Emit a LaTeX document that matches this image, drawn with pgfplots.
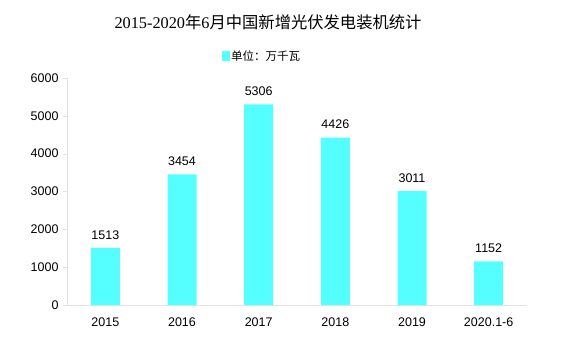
\documentclass[border=0pt]{standalone}
\usepackage{pgfplots}
\pgfplotsset{compat=1.18}
\usepackage{fontspec}
\setmainfont{Liberation Sans}
\newfontfamily\cjk{Noto Sans CJK SC}
\newfontfamily\tnr{Liberation Serif}
\definecolor{barc}{HTML}{55FFFF}
\definecolor{axc}{HTML}{E2E2E2}
\begin{document}
\begin{tikzpicture}
\path (0pt,0pt) rectangle (569pt,-357pt);
\node at (268pt,-22pt) {\fontsize{16.3}{16.3}\selectfont\tnr 2015-2020\cjk 年\tnr 6\cjk 月中国新增光伏发电装机统计};
\fill[barc] (222pt,-51pt) rectangle (230pt,-61pt);
\node[anchor=west,inner sep=0pt] at (231pt,-56.5pt) {\fontsize{11.5}{11.5}\selectfont\cjk 单位：万千瓦};
\begin{axis}[
  at={(67pt,-305pt)}, anchor=south west,
  scale only axis, width=460pt, height=227pt,
  xmin=-0.5, xmax=5.5, ymin=0, ymax=6000,
  ytick={0,1000,...,6000},
  xtick={0,...,5}, xticklabels={2015,2016,2017,2018,2019,2020.1-6},
  extra x ticks={0.5,1.5,2.5,3.5,4.5,5.5}, extra x tick labels={},
  extra x tick style={major tick length=4pt, tick style={axc}},
  major x tick style={draw=none},
  axis x line*=bottom, axis y line*=left,
  axis line style={axc, -},
  y tick style={axc}, major tick length=4pt,
  tick align=outside,
  ticklabel style={font=\fontsize{12.5}{12.5}\selectfont},
  /pgf/number format/assume math mode=true,
  yticklabel style={/pgf/number format/1000 sep={}, xshift=-1pt},
  xticklabel style={yshift=-5pt},
  ybar, bar width=29pt,
  nodes near coords,
  nodes near coords style={font=\fontsize{12.5}{12.5}\selectfont, yshift=5pt, /pgf/number format/1000 sep={}},
  clip=false,
]
\addplot[fill=barc, draw=none] coordinates {(0,1513) (1,3454) (2,5306) (3,4426) (4,3011) (5,1152)};
\end{axis}
\end{tikzpicture}
\end{document}
